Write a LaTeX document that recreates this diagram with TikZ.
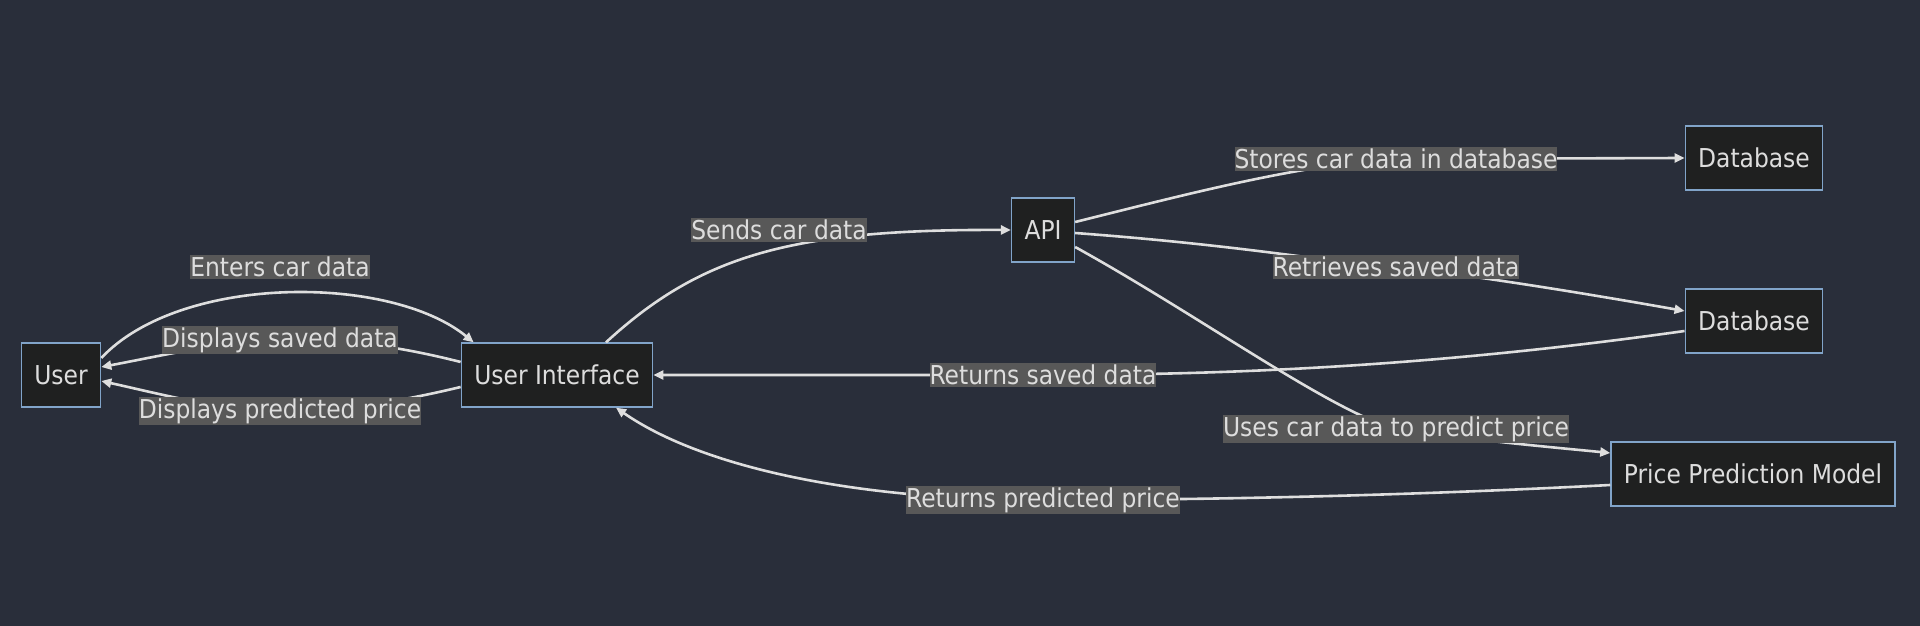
\documentclass[tikz,border=0pt]{standalone}
\usepackage{fontspec}
\setmainfont{DejaVu Sans Condensed}
\usepackage{tikz}
\usetikzlibrary{positioning,calc,arrows.meta}
\usepackage{xcolor}
\definecolor{bgdark}{RGB}{41,46,58}
\definecolor{boxfill}{RGB}{31,32,32}
\definecolor{boxline}{RGB}{129,164,201}
\definecolor{txtlight}{RGB}{221,221,221}
\definecolor{lblfill}{RGB}{88,88,88}
\definecolor{linelight}{RGB}{222,222,222}
\tikzset{
  block/.style={draw=boxline,line width=1.3pt,fill=boxfill,text=txtlight,
    minimum height=64pt,inner xsep=13pt,font=\fontsize{26}{30}\selectfont},
  flowlabel/.style={fill=lblfill,text=txtlight,inner xsep=0pt,inner ysep=1.5pt,
    font=\fontsize{26}{30}\selectfont},
  flow/.style={draw=linelight,line width=2.6pt,-{Triangle[length=10pt,width=9pt]}}
}
\begin{document}
\begin{tikzpicture}[x=1pt,y=1pt]
  \fill[bgdark] (0,0) rectangle (1920,626);
  \useasboundingbox (0,0) rectangle (1920,626);
  % boxes
  \node[block] (user) at (61,251) {User};
  \node[block] (ui) at (557,251) {User Interface};
  \node[block] (api) at (1043,396) {API};
  \node[block] (dbstore) at (1754,468) {Database};
  \node[block] (dbread) at (1754,305) {Database};
  \node[block] (model) at (1753,152) {Price Prediction Model};
  % edges first, labels on top
  \coordinate (lEnter) at (280,359);
  \coordinate (lShow) at (280,286);
  \coordinate (lPrice) at (280,215);
  \coordinate (lSend) at (779,396);
  \coordinate (lStore) at (1396,467);
  \coordinate (lFetch) at (1396,359);
  \coordinate (lBack) at (1043,251);
  \coordinate (lPredict) at (1396,197);
  \coordinate (lReturn) at (1043,126);
  \draw[flow] ([yshift=17pt]user.east) .. controls (180,352) and (390,352) .. ([xshift=13pt]ui.north west);
  \draw[flow] ([yshift=13pt]ui.west) .. controls (390,282) and (330,288) .. (lShow)
    .. controls (220,284) and (160,270) .. ([yshift=8pt]user.east);
  \draw[flow] ([yshift=-12pt]ui.west) .. controls (390,222) and (330,214) .. (lPrice)
    .. controls (220,216) and (160,232) .. ([yshift=-6pt]user.east);
  \draw[flow] ([xshift=49pt]ui.north) .. controls (700,370) and (790,397) .. (api.west);
  \draw[flow] ([yshift=8pt]api.east) .. controls (1180,430) and (1300,462) .. (lStore) -- (dbstore.west);
  \draw[flow] ([yshift=-3pt]api.east) .. controls (1250,380) and (1340,362) .. (lFetch)
    .. controls (1480,350) and (1600,330) .. ([yshift=10pt]dbread.west);
  \draw[flow] ([yshift=-10pt]dbread.west) .. controls (1450,262) and (1250,251) .. (lBack) -- (ui.east);
  \draw[flow] ([yshift=-17pt]api.east) .. controls (1200,310) and (1330,215) .. (lPredict)
    .. controls (1480,185) and (1560,178) .. ([yshift=21pt]model.west);
  \draw[flow] ([yshift=-11pt]model.west) .. controls (1400,130) and (1200,126) .. (lReturn)
    .. controls (850,126) and (700,160) .. ([xshift=59pt]ui.south);
  % labels
  \node[flowlabel] at (lEnter) {Enters car data};
  \node[flowlabel] at (lShow) {Displays saved data};
  \node[flowlabel] at (lPrice) {Displays predicted price};
  \node[flowlabel] at (lSend) {Sends car data};
  \node[flowlabel] at (lStore) {Stores car data in database};
  \node[flowlabel] at (lFetch) {Retrieves saved data};
  \node[flowlabel] at (lBack) {Returns saved data};
  \node[flowlabel] at (lPredict) {Uses car data to predict price};
  \node[flowlabel] at (lReturn) {Returns predicted price};
\end{tikzpicture}
\end{document}
